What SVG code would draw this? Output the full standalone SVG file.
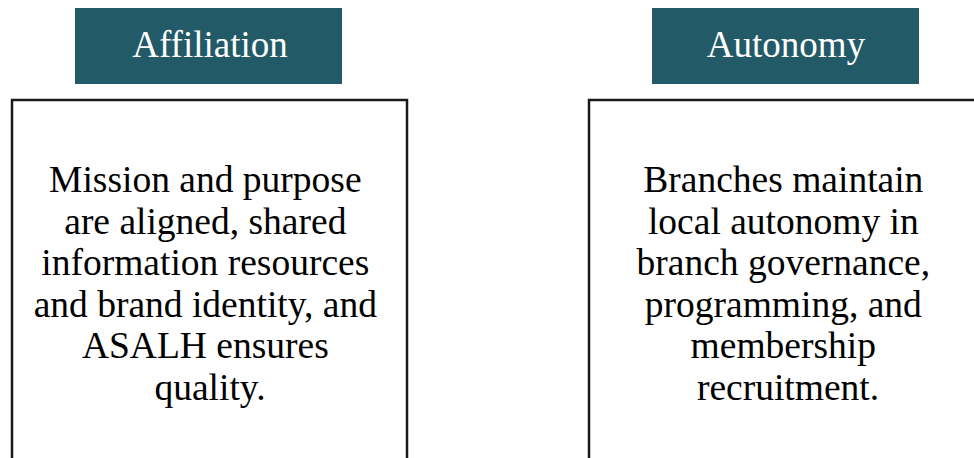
<svg xmlns="http://www.w3.org/2000/svg" width="974" height="458" viewBox="0 0 974 458">
<style>
.hdr{fill:#225a67}
.hdrt{fill:#ffffff;font-family:"Liberation Serif","Times New Roman",serif;font-size:37px;text-anchor:middle}
.box{fill:#ffffff;stroke:#1a1a1a;stroke-width:2.5}
.body{fill:#000000;font-family:"Liberation Serif","Times New Roman",serif;font-size:37.5px;text-anchor:middle}
</style>
<rect width="974" height="458" fill="#ffffff"/>
<g id="affiliation-header">
<rect class="hdr" x="75" y="8" width="267" height="76"/>
<text class="hdrt" x="210" y="56.5">Affiliation</text>
</g>
<g id="autonomy-header">
<rect class="hdr" x="652" y="8" width="267" height="76"/>
<text class="hdrt" x="786" y="56.5">Autonomy</text>
</g>
<g id="affiliation-box">
<rect class="box" x="12" y="100" width="395" height="380"/>
<text class="body" x="210">
<tspan x="210" y="192">Mission and purpose</tspan>
<tspan x="210" y="233.5">are aligned, shared</tspan>
<tspan x="210" y="275">information resources</tspan>
<tspan x="210" y="316.5">and brand identity, and</tspan>
<tspan x="210" y="358">ASALH ensures</tspan>
<tspan x="210" y="399.5">quality.</tspan>
</text>
</g>
<g id="autonomy-box">
<rect class="box" x="589" y="100" width="395" height="380"/>
<text class="body" x="788">
<tspan x="788" y="192">Branches maintain</tspan>
<tspan x="788" y="233.5">local autonomy in</tspan>
<tspan x="788" y="275">branch governance,</tspan>
<tspan x="788" y="316.5">programming, and</tspan>
<tspan x="788" y="358">membership</tspan>
<tspan x="788" y="399.5">recruitment.</tspan>
</text>
</g>
<g id="connectors"></g>
</svg>
